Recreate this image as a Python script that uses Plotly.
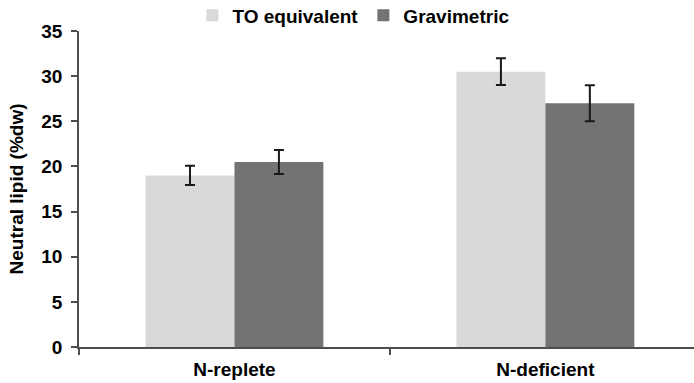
import plotly.graph_objects as go

categories = ["N-replete", "N-deficient"]
series_names = ["TO equivalent", "Gravimetric"]
to_values = [19.0, 30.5]
to_errors = [1.07, 1.47]
grav_values = [20.5, 27.0]
grav_errors = [1.33, 2.0]
y_ticks = [0, 5, 10, 15, 20, 25, 30, 35]

FONT = "Liberation Sans"
AXIS_COLOR = "#4d4d4d"
FS = 19

fig = go.Figure()
fig.add_trace(go.Bar(
    name=series_names[0], x=categories, y=to_values,
    marker=dict(color="#d9d9d9", line=dict(width=0)),
    error_y=dict(type="data", array=to_errors, visible=True,
                 color="#1a1a1a", thickness=2, width=5),
))
fig.add_trace(go.Bar(
    name=series_names[1], x=categories, y=grav_values,
    marker=dict(color="#737373", line=dict(width=0)),
    error_y=dict(type="data", array=grav_errors, visible=True,
                 color="#1a1a1a", thickness=2, width=5),
))

fig.update_layout(
    width=694, height=383,
    margin=dict(l=79, r=0, t=31, b=36, autoexpand=False),
    paper_bgcolor="white", plot_bgcolor="white",
    barmode="group", bargap=0.428, bargroupgap=0,
    font=dict(family=FONT, size=FS, color="black", weight="bold"),
    showlegend=True,
    legend=dict(orientation="h", x=0.447, xanchor="center",
                yref="container", y=0.96, yanchor="middle",
                font=dict(family=FONT, size=FS, color="black", weight="bold"),
                itemwidth=30, tracegroupgap=0, bgcolor="rgba(0,0,0,0)"),
    xaxis=dict(
        type="category", range=[-0.5, 1.478],
        showline=True, linecolor=AXIS_COLOR, linewidth=1.5,
        ticks="outside", tickson="boundaries", ticklen=6,
        tickcolor=AXIS_COLOR, tickwidth=1.5,
        showgrid=False, zeroline=False,
        ticklabelstandoff=4,
        tickfont=dict(family=FONT, size=FS, color="black", weight="bold"),
    ),
    yaxis=dict(
        range=[0, 35], tickvals=y_ticks,
        showline=True, linecolor=AXIS_COLOR, linewidth=1.5,
        ticks="outside", ticklen=6, tickcolor=AXIS_COLOR, tickwidth=1.5,
        showgrid=False, zeroline=False,
        ticklabelstandoff=5,
        tickfont=dict(family=FONT, size=FS, color="black", weight="bold"),
        title=dict(text="Neutral lipid (%dw)", standoff=13,
                   font=dict(family=FONT, size=FS, color="black", weight="bold")),
    ),
)

fig.write_html("out.html")
